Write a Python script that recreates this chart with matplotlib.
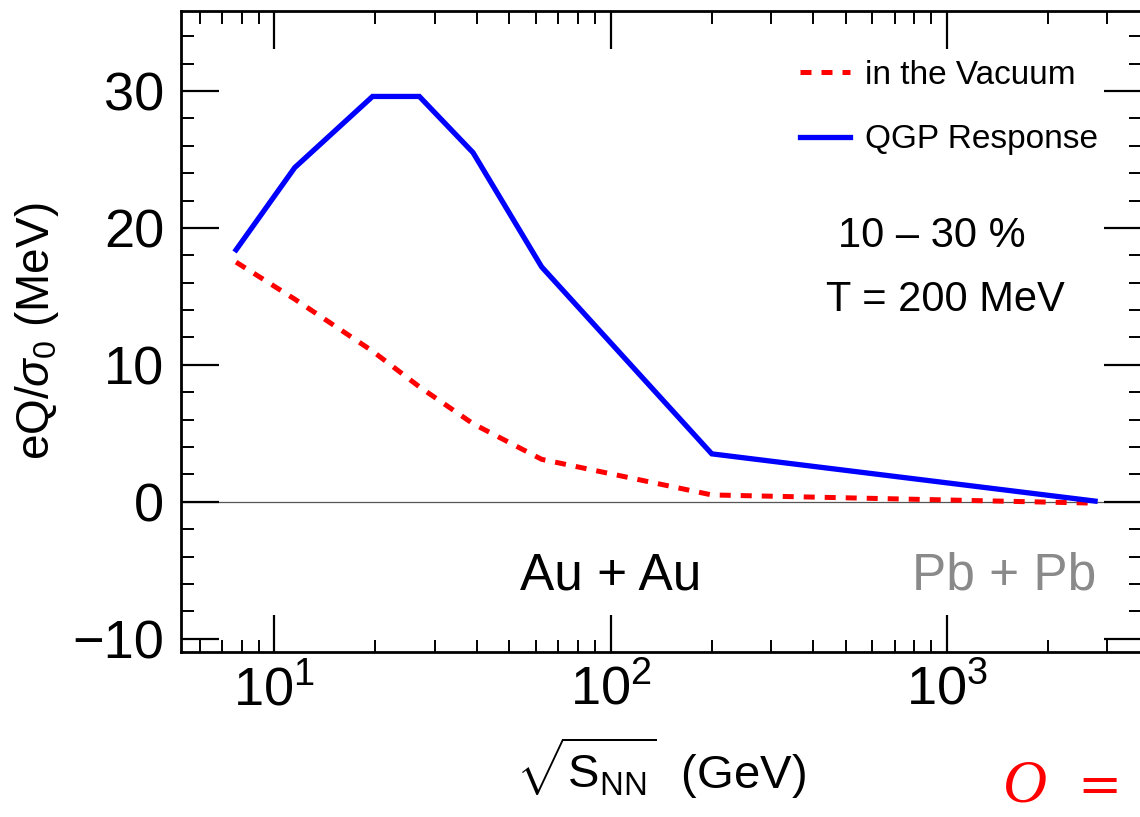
import math
import matplotlib
matplotlib.use("Agg")
import matplotlib.pyplot as plt
from matplotlib.ticker import LogLocator, MultipleLocator, FixedLocator, NullFormatter, FuncFormatter

plt.rcParams['font.family'] = ['Liberation Sans', 'DejaVu Sans']
plt.rcParams['mathtext.fontset'] = 'custom'
plt.rcParams['mathtext.rm'] = 'Liberation Sans'
plt.rcParams['mathtext.it'] = 'Liberation Sans:italic'
plt.rcParams['mathtext.bf'] = 'Liberation Sans:bold'

# ---- data ----
energies = [7.7, 11.5, 19.6, 27, 39, 62.4, 200, 2760]
vacuum = [17.5, 14.8, 11.0, 8.4, 5.7, 3.1, 0.5, -0.1]
qgp_response = [18.4, 24.4, 29.6, 29.6, 25.5, 17.15, 3.5, 0.05]
series_labels = ["in the Vacuum", "QGP Response"]
y_ticks = [-10, 0, 10, 20, 30]
x_ticks = [10, 100, 1000]

W, H = 1140, 817
fig = plt.figure(figsize=(W / 100, H / 100), dpi=100)
ax = fig.add_axes([181 / W, 1 - 652 / H, (1141 - 181) / W, (652 - 11) / H])

ax.set_xscale('log')
ax.set_xlim(5.28, 3780)
ax.set_ylim(-10.97, 35.84)

ax.axhline(0, color='#555555', lw=0.9, zorder=1)
ax.plot(energies, vacuum, color='#ff0000', lw=3.6, dashes=(2.2, 2.0),
        label=series_labels[0], zorder=3)
ax.plot(energies, qgp_response, color='#0000ff', lw=3.8,
        label=series_labels[1], zorder=4, solid_joinstyle='miter')

for s in ax.spines.values():
    s.set_linewidth(2.0)
    s.set_color('black')

ax.xaxis.set_major_locator(FixedLocator(x_ticks))
ax.xaxis.set_minor_locator(LogLocator(base=10, subs=range(2, 10), numticks=20))
ax.xaxis.set_minor_formatter(NullFormatter())
ax.xaxis.set_major_formatter(FuncFormatter(lambda v, p: r'$10^{%d}$' % round(math.log10(v))))
ax.yaxis.set_major_locator(FixedLocator(y_ticks))
ax.yaxis.set_minor_locator(MultipleLocator(2))
ax.yaxis.set_major_formatter(FuncFormatter(lambda v, p: ('\u2212%d' % abs(v)) if v < 0 else '%d' % v))

ax.tick_params(which='both', direction='in', top=True, right=True, color='black')
ax.tick_params(which='major', length=27, width=1.6, labelsize=39, pad=9)
ax.tick_params(which='minor', length=9, width=1.4)
ax.tick_params(axis='y', which='major', pad=12)

ax.set_xlabel(r'$\sqrt{\mathrm{S}_{\mathrm{NN}}}$  (GeV)', fontsize=34, labelpad=14)
ax.set_ylabel(r'eQ/$\sigma_0$ (MeV)', fontsize=33, labelpad=8)

leg = ax.legend(loc='upper left', bbox_to_anchor=(800 / W, 1 - 60 / H),
                bbox_transform=fig.transFigure, frameon=False, fontsize=24,
                handlelength=1.5, handletextpad=0.45, labelspacing=1.0,
                borderpad=0, borderaxespad=0)

fig.text(611 / W, 1 - 590 / H, 'Au + Au', fontsize=37, ha='center', va='baseline')
fig.text(1004 / W, 1 - 590 / H, 'Pb + Pb', fontsize=37, ha='center', va='baseline', color='#8a8a8a')
fig.text(932 / W, 1 - 247 / H, '10 \u2013 30 %', fontsize=30, ha='center', va='baseline')
fig.text(945 / W, 1 - 311 / H, 'T = 200 MeV', fontsize=30, ha='center', va='baseline')

fig.text(1003 / W, 1 - 802 / H, 'O', fontsize=44, color='#ff0000', family='Liberation Serif',
         style='italic', ha='left', va='baseline')
fig.text(1077 / W, 1 - 802 / H, '=', fontsize=38, color='#ff0000', family='DejaVu Serif',
         ha='left', va='baseline')

fig.savefig('out.png', dpi=100)
